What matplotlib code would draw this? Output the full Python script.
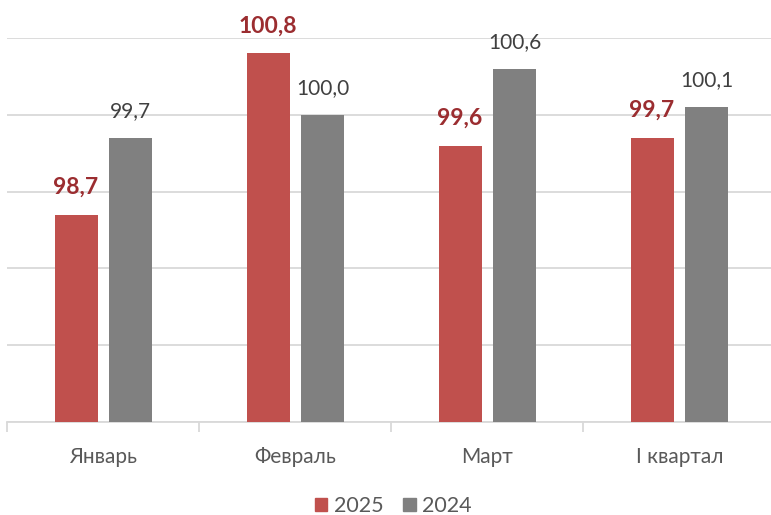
import numpy as np
import matplotlib
matplotlib.use("Agg")
from matplotlib import pyplot as plt
from matplotlib import patches as mpatches

# values
categories = ["Январь", "Февраль", "Март", "I квартал"]
values_2025 = [98.7, 100.8, 99.6, 99.7]
values_2024 = [99.7, 100.0, 100.6, 100.1]
labels_2025 = ["98,7", "100,8", "99,6", "99,7"]
labels_2024 = ["99,7", "100,0", "100,6", "100,1"]

RED = "#C0504D"
GRAY = "#808080"
RED_TEXT = "#9B2D30"
GRID = "#D9D9D9"

plt.rcParams["font.family"] = ["Lato", "DejaVu Sans"]

fig = plt.figure(figsize=(7.71, 5.15), dpi=100)
ax = fig.add_axes([0.0097, 0.1806, 0.9961, 0.7456])

x = np.arange(len(categories))
bar_w = 0.224
off = 0.143
base = 96.0

bars_red = ax.bar(x - off, np.array(values_2025) - base, bar_w, bottom=base, color=RED, zorder=3)
bars_gray = ax.bar(x + off, np.array(values_2024) - base, bar_w, bottom=base, color=GRAY, zorder=3)

for b, txt in zip(bars_red, labels_2025):
    ax.annotate(txt, (b.get_x() + b.get_width() / 2, b.get_y() + b.get_height()),
                xytext=(0, 12), textcoords="offset points", ha="center", va="bottom",
                fontsize=16.5, fontweight="bold", color=RED_TEXT)
for b, txt in zip(bars_gray, labels_2024):
    ax.annotate(txt, (b.get_x() + b.get_width() / 2, b.get_y() + b.get_height()),
                xytext=(0, 12), textcoords="offset points", ha="center", va="bottom",
                fontsize=15, color="#404040")

ax.set_xlim(-0.5, len(categories) - 0.5)
ax.set_ylim(96, 101)
ax.set_yticks(np.arange(96, 101.5, 1))
ax.yaxis.grid(True, color=GRID, linewidth=1.3, zorder=0)
ax.tick_params(axis="y", left=False, labelleft=False)

ax.set_xticks(x)
ax.set_xticklabels(categories, fontsize=15, color="#595959")
ax.tick_params(axis="x", which="major", length=0, pad=18)
ax.set_xticks(np.arange(-0.5, len(categories), 1), minor=True)
ax.tick_params(axis="x", which="minor", length=7, color=GRID, width=1.3)

for s in ["top", "right", "left"]:
    ax.spines[s].set_visible(False)
ax.spines["bottom"].set_color(GRID)
ax.spines["bottom"].set_linewidth(1.3)

red_patch = mpatches.Patch(color=RED, label="2025")
gray_patch = mpatches.Patch(color=GRAY, label="2024")
fig.legend(handles=[red_patch, gray_patch], loc="lower center", bbox_to_anchor=(0.51, -0.04),
           ncol=2, frameon=False, fontsize=15.5, handlelength=0.6, handleheight=0.6,
           handletextpad=0.3, columnspacing=0.9, labelcolor="#595959")

fig.savefig("out.png", dpi=100)
